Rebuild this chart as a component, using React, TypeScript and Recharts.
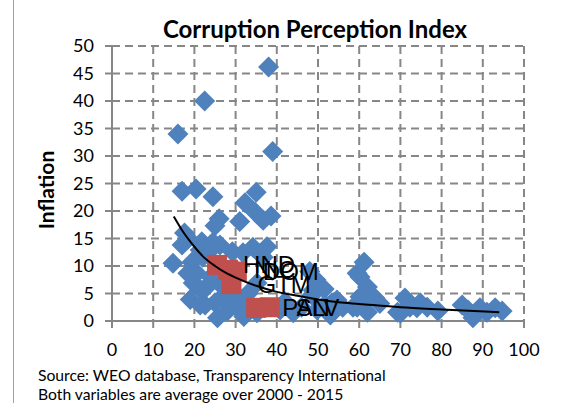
import { ScatterChart, Scatter, XAxis, YAxis, CartesianGrid } from 'recharts';

// Corruption Perception Index (x) vs average inflation (y), 2000-2015
const countryCpi = [
  38, 22.5, 16, 39, 17, 20.4, 24.5, 35, 32.3, 34.7, 38.6, 36.7, 31, 26, 25,
  17.6, 18.5, 21.8, 24.5, 26.2, 17, 21.4, 23.8, 29.2, 31.8, 34.2, 36, 36.7, 14.8, 19.4,
  22, 18.4, 20.6, 19.7, 21.8, 23, 19, 21.4, 22.6, 25, 25.6, 29.4, 30.3, 31.8, 35.2,
  35.2, 33, 27, 28, 32, 24, 26.5, 30.5, 33.5, 37.6, 40.8, 42, 44, 46, 48.5,
  48.8, 49.5, 48, 51.5, 49.8, 53, 51.7, 53.4, 54.6, 56, 58.5, 59.5, 60.2, 61.2, 62,
  60.2, 63, 63.8, 65, 60.7, 62, 59.5, 69.3, 71.1, 70, 72.3, 74, 74.8, 76.5, 79.1,
  85, 86.4, 87.6, 89.3, 91, 93, 94.7,
];
const countryInflation = [
  46.2, 40, 34, 30.8, 23.6, 24, 22.6, 23.4, 21.5, 19.8, 19.1, 18.3, 18.1, 18.6, 17.3,
  16, 15, 14.4, 14.3, 13.8, 13.8, 12.9, 12.8, 12.6, 12.4, 13.4, 12.3, 11.6, 10.5, 10.7,
  11.6, 8.7, 8.7, 6.9, 5.6, 6.2, 3.9, 2.9, 2.9, 3.3, 0.6, 2.9, 2.5, 3.8, 6.9,
  1.5, 5, 4.5, 1.8, 0.8, 8, 6.5, 4.5, 3, 13.5, 2, 3.5, 1.5, 2.5, 4.7,
  5.6, 7.5, 9, 5.8, 2, 1.1, 3, 3.3, 3.8, 2.5, 2.5, 8.7, 8, 10.7, 6.2,
  4.4, 4.7, 4.2, 3.2, 3.8, 1.6, 2.5, 1.6, 4.2, 1.4, 2.5, 2.4, 3.3, 2.5, 1.8,
  2.9, 2, 0.6, 2.4, 1.6, 2.4, 1.8,
];

// highlighted countries
const highlightNames = ['HND', 'NIC', 'DOM', 'GTM', 'PAN', 'SLV'];
const highlightCpi = [25.5, 28.2, 30.3, 29, 35, 38.3];
const highlightInflation = [10.2, 9.3, 9, 6.7, 2.4, 2.5];

// power trend line
const trendCpi = [15, 17, 20, 22, 25, 28, 30, 35, 40, 45, 50, 55, 60, 70, 80, 94];
const trendInflation = [19, 16.5, 13.5, 11.8, 10, 8.6, 7.9, 6.4, 5.3, 4.6, 3.9, 3.4, 3.1, 2.5, 2.1, 1.6];

const xTicks = [0, 10, 20, 30, 40, 50, 60, 70, 80, 90, 100];
const yTicks = [0, 5, 10, 15, 20, 25, 30, 35, 40, 45, 50];

const countries = countryCpi.map((x, i) => ({ x, y: countryInflation[i] }));
const highlights = highlightCpi.map((x, i) => ({ x, y: highlightInflation[i], name: highlightNames[i] }));
const trend = trendCpi.map((x, i) => ({ x, y: trendInflation[i] }));

const gray = '#878787';
const font = 'Lato, "Open Sans", sans-serif';

const Diamond = (props: any) => {
  const { cx, cy } = props;
  const r = 10.5;
  return <path d={`M${cx},${cy - r}L${cx + r},${cy}L${cx},${cy + r}L${cx - r},${cy}Z`} fill="#4F81BD" />;
};

const Square = (props: any) => {
  const { cx, cy } = props;
  return <rect x={cx - 10} y={cy - 10} width={20} height={20} fill="#C0504D" />;
};

const NameLabel = (props: any) => {
  const { cx, cy, payload } = props;
  return (
    <text x={cx + 26} y={cy} dy="0.35em" fontSize={24} fontFamily='"Liberation Sans", Arial, sans-serif' fill="#000">
      {payload.name}
    </text>
  );
};

export default function App() {
  return (
    <div style={{ position: 'absolute', left: 0, top: 0, width: 576, height: 403, background: '#fff' }}>
      <ScatterChart width={576} height={403} margin={{ top: 46, right: 52, left: 0, bottom: 0 }}>
        <CartesianGrid stroke={gray} strokeWidth={2} strokeDasharray="8 5" />
        <XAxis
          type="number"
          dataKey="x"
          domain={[0, 100]}
          ticks={xTicks}
          height={82}
          interval={0}
          axisLine={{ stroke: gray, strokeWidth: 2 }}
          tickLine={{ stroke: gray, strokeWidth: 2 }}
          tickSize={7}
          tickMargin={15}
          tick={{ fontSize: 18, fill: '#000', fontFamily: font }}
        />
        <YAxis
          type="number"
          dataKey="y"
          domain={[0, 50]}
          ticks={yTicks}
          width={112}
          interval={0}
          axisLine={{ stroke: gray, strokeWidth: 2 }}
          tickLine={{ stroke: gray, strokeWidth: 2 }}
          tickSize={7}
          tickMargin={11}
          tick={{ fontSize: 18, fill: '#000', fontFamily: font }}
        />
        <Scatter data={countries} shape={Diamond} isAnimationActive={false} />
        <Scatter data={highlights} shape={Square} isAnimationActive={false} />
        <Scatter
          data={trend}
          line={{ stroke: '#000', strokeWidth: 2 }}
          lineJointType="monotoneX"
          shape={() => <g />}
          isAnimationActive={false}
        />
        <Scatter data={highlights} shape={NameLabel} isAnimationActive={false} />
      </ScatterChart>
      <svg width={576} height={403} style={{ position: 'absolute', left: 0, top: 0, pointerEvents: 'none' }}>
        <line x1={13.5} y1={0} x2={13.5} y2={403} stroke="#a0a0a0" strokeWidth={1} />
        <text x={315} y={38} textAnchor="middle" fontSize={24} fontWeight="bold" fontFamily={font} fill="#000">
          Corruption Perception Index
        </text>
        <text transform="translate(54,190) rotate(-90)" textAnchor="middle" fontSize={21} fontWeight="bold" fontFamily={font} fill="#000">
          Inflation
        </text>
        <text x={38} y={381} fontSize={15.7} fontFamily={font} fill="#000">
          Source: WEO database, Transparency International
        </text>
        <text x={38} y={400} fontSize={15.7} fontFamily={font} fill="#000">
          Both variables are average over 2000 - 2015
        </text>
      </svg>
    </div>
  );
}
